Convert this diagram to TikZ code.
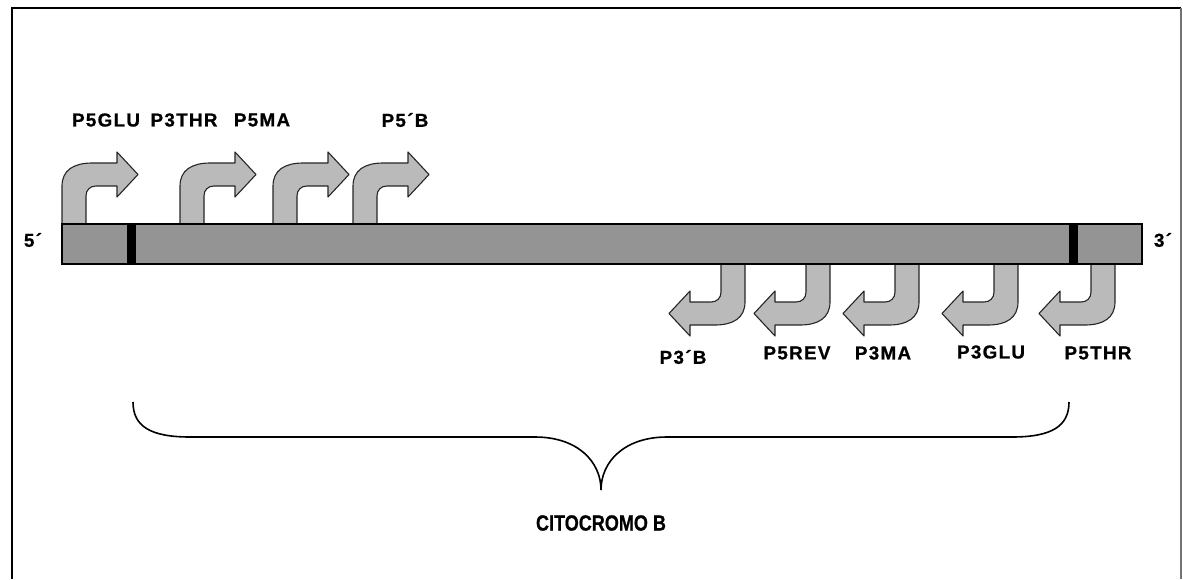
\documentclass[tikz,border=0pt]{standalone}
\usepackage{fontspec}
\setmainfont{Liberation Sans}
\newfontfamily\primerfont[LetterSpace=7,BoldFeatures={FakeBold=0.8}]{Liberation Sans}
\newfontfamily\narrowfont[FakeStretch=0.82,BoldFeatures={FakeBold=0.8}]{Liberation Sans}
\usetikzlibrary{positioning}
\tikzset{
  lbl/.style={font=\fontsize{9.4}{11}\primerfont\bfseries,inner sep=0pt},
  genelbl/.style={font=\fontsize{11}{13}\narrowfont\bfseries,inner sep=0pt},
  genbar/.style={draw=black,line width=.6pt,fill=black!42,inner sep=0pt,
        minimum width=540pt,minimum height=20pt},
  exonmark/.style={fill=black,inner sep=0pt,minimum width=4.5pt,minimum height=20pt},
  promfill/.style={draw=black!85,line width=.55pt,fill=black!27,line join=round},
  bracestyle/.style={draw=black,line width=.8pt},
  pics/promoter/.style={code={
    \draw[promfill] (0,0) -- (0,-38) .. controls (0,-54) and (12,-61) .. (30,-61)
      -- (55,-61) -- (55,-72) -- (76,-49.5) -- (55,-27) -- (55,-38) -- (34,-38)
      .. controls (28,-38) and (24,-34) .. (24,-28) -- (24,0) -- cycle;
  }},
}
\begin{document}
\begin{tikzpicture}[x=.5pt,y=-.5pt]
\useasboundingbox (0,0) rectangle (1183,579);
% frame
\draw[line width=1pt] (12,579) -- (12,8) -- (1181,8);
\draw[black!55,line width=.6pt] (1181,8) -- (1181,579);
% promoters above the gene
\foreach \px in {62,180,273,353}
  \pic at (\px,224) {promoter};
% promoters below the gene
\foreach \px in {745,830,919,1018,1115}
  \pic[rotate=180] at (\px,264) {promoter};
% gene
\node[genbar] (cytb) at (602,244) {};
\node[exonmark] (mkL) at (131,244) {};
\node[exonmark] (mkR) at (1073,244) {};
\node[lbl] (end5) at (33,240) {5´};
\node[lbl] (end3) at (1163,240) {3´};
% primer labels
\node[lbl] (p5glu) at (106,120) {P5GLU};
\node[lbl] (p3thr) at (184,120) {P3THR};
\node[lbl] (p5ma)  at (262,120) {P5MA};
\node[lbl] (p5b)   at (405,120) {P5´B};
\node[lbl] (p3b)   at (683,357) {P3´B};
\node[lbl] (p5rev) at (797,353) {P5REV};
\node[lbl] (p3ma)  at (883,353) {P3MA};
\node[lbl] (p3glu) at (991,352) {P3GLU};
\node[lbl] (p5thr) at (1098,353) {P5THR};
% brace
\coordinate (brL) at (133,402);
\coordinate (brTip) at (601,490);
\coordinate (brR) at (1069,402);
\draw[bracestyle] (brL) .. controls (133,426) and (150,437) .. (190,437)
  -- (535,437) .. controls (578,437) and (601,462) .. (brTip)
  .. controls (601,462) and (624,437) .. (667,437)
  -- (1012,437) .. controls (1052,437) and (1069,426) .. (brR);
\node[genelbl] (cytlbl) at (601,523) {CITOCROMO B};
\end{tikzpicture}
\end{document}
